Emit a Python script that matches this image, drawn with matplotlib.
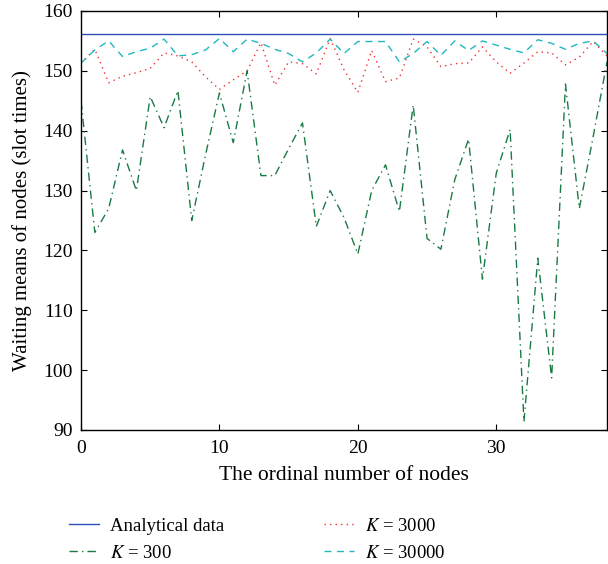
import matplotlib
matplotlib.use("Agg")
import matplotlib.pyplot as plt
import numpy as np

nodes = list(range(39))
analytical = 156.1
k300 = [145, 123, 127, 136.8, 130, 145.7, 140.5, 146.7, 125, 136, 146.3, 138, 150,
        132.5, 132.5, 137, 141.3, 124, 130, 125.5, 119.4, 130, 134.3, 126.5, 144.3,
        122, 120.2, 131.8, 138.6, 115.2, 132.9, 140.2, 91.4, 118.7, 98.7, 147.8, 127,
        139, 151.5]
k3000 = [151.3, 153.6, 148, 149.1, 149.7, 150.4, 153, 152.5, 151.5, 149, 146.9, 148.5,
         150, 154.7, 147.6, 151.5, 151.2, 149.5, 155.4, 150.2, 146.4, 153.4, 148.2,
         148.8, 155.3, 154.0, 150.7, 151.2, 151.3, 154.0, 151.5, 149.6, 151.3, 153.2,
         153, 151, 152.3, 154.9, 152.5]
k30000 = [151.3, 153.5, 155, 152.4, 153.2, 153.8, 155.3, 152.5, 152.7, 153.5, 155.4,
          153.2, 155.3, 154.6, 153.6, 152.9, 151.5, 153.0, 155.3, 152.9, 154.9, 154.9,
          154.9, 151.5, 152.9, 154.9, 152.6, 155.0, 153.4, 155.0, 154.3, 153.6, 153.0,
          155.2, 154.6, 153.6, 154.6, 155.0, 152.9]

plt.rcParams['font.family'] = ['Liberation Serif', 'DejaVu Serif']
plt.rcParams['mathtext.fontset'] = 'stix'

fig = plt.figure(figsize=(6.08, 5.64), dpi=100)
ax = fig.add_axes([81/608, 1-430/564, 526/608, 419/564])

l1, = ax.plot([0, 38], [analytical, analytical], color='#3050b8', lw=1.0, label='Analytical data')
l2, = ax.plot(nodes, k300, color='#1a7a45', lw=1.0, linestyle=(0, (6, 3, 1, 3)), label='$K$ = 300')
l3, = ax.plot(nodes, k3000, color='#f03030', lw=1.0, linestyle=(0, (1, 3)), label='$K$ = 3000')
l4, = ax.plot(nodes, k30000, color='#20b8c0', lw=1.0, linestyle=(0, (5, 4)), label='$K$ = 30000')

ax.set_xlim(0, 38)
ax.set_ylim(90, 160)
ax.set_xticks([0, 10, 20, 30])
ax.set_yticks(range(90, 161, 10))
ax.tick_params(direction='in', top=True, right=True, labelsize=14, length=4)
ax.tick_params(axis='y', pad=6)
ax.tick_params(axis='x', pad=7)
for s in ax.spines.values():
    s.set_linewidth(1.0)
ax.set_xlabel('The ordinal number of nodes', fontsize=15.5, labelpad=7)
ax.set_ylabel('Waiting means of nodes (slot times)', fontsize=15, labelpad=8)

fig.legend(handles=[l1, l2, l3, l4], ncol=2, loc='upper left',
           bbox_to_anchor=(52/608, 1-501/564), frameon=False, fontsize=13.5,
           handlelength=1.6, columnspacing=5.3, labelspacing=0.5, handletextpad=0.6)

fig.savefig('out.png', dpi=100)
